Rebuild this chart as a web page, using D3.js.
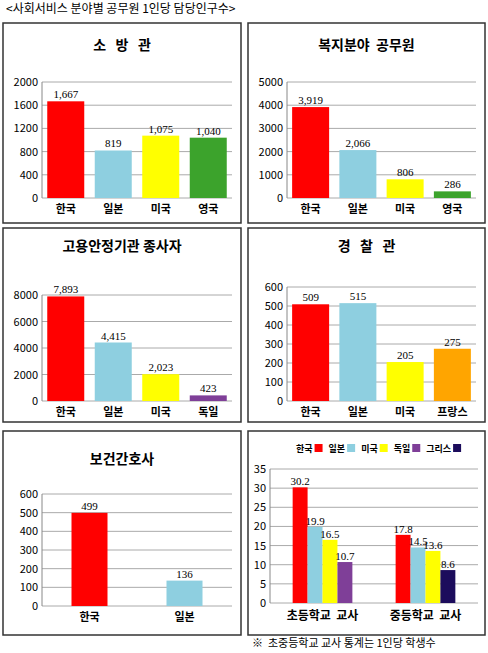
<!DOCTYPE html>
<html><head><meta charset="utf-8">
<script src="https://cdn.jsdelivr.net/npm/d3@7"></script>
<style>body{margin:0;background:#fff}text{font-family:"Noto Sans CJK KR","Noto Sans",sans-serif;white-space:pre}</style>
</head><body>
<svg id="c" width="488" height="653"></svg>
<script>
// data
const fireCats = ["한국", "일본", "미국", "영국"], fireVals = [1667, 819, 1075, 1040];
const welfCats = ["한국", "일본", "미국", "영국"], welfVals = [3919, 2066, 806, 286];
const jobCats = ["한국", "일본", "미국", "독일"], jobVals = [7893, 4415, 2023, 423];
const polCats = ["한국", "일본", "미국", "프랑스"], polVals = [509, 515, 205, 275];
const nurseCats = ["한국", "일본"], nurseVals = [499, 136];
const schoolGroups = ["초등학교  교사", "중등학교  교사"];
const schoolSeries = [["한국", "일본", "미국", "독일"], ["한국", "일본", "미국", "그리스"]];
const schoolVals = [[30.2, 19.9, 16.5, 10.7], [17.8, 14.5, 13.6, 8.6]];
const legendNames = ["한국", "일본", "미국", "독일", "그리스"];

const colors = {"한국": "#ff0000", "일본": "#8ecfe0", "미국": "#ffff00", "영국": "#3ca32c",
    "독일": "#7f3f98", "프랑스": "#ffa500", "그리스": "#1c0c5c"};

const svg = d3.select("#c");
const fmt = d3.format(",");

svg.append("text").attr("x", 6).attr("y", 13).style("font-size", "12px").text("<사회서비스 분야별 공무원 1인당 담당인구수>");

function frame(x, y, w, h) {
    svg.append("rect").attr("x", x).attr("y", y).attr("width", w).attr("height", h)
        .attr("fill", "none").attr("stroke", "#333").attr("stroke-width", 1.5);
}

function axisY(g, y, ticks, x0, x1) {
    ticks.forEach(t => {
        g.append("line").attr("x1", x0).attr("x2", x1).attr("y1", y(t)).attr("y2", y(t))
            .attr("stroke", "#aaa");
        g.append("text").attr("x", x0 - 4).attr("y", y(t) + 4).attr("text-anchor", "end")
            .style("font-size", "11px").text(t);
    });
    g.append("line").attr("x1", x0).attr("x2", x0).attr("y1", y(ticks[ticks.length - 1])).attr("y2", y(0)).attr("stroke", "#888");
}

function panel(p) {
    frame(p.x, p.y, p.w, p.h);
    const g = svg.append("g");
    g.append("text").attr("x", p.x + p.w / 2).attr("y", p.titleY).attr("text-anchor", "middle")
        .style("font-size", "14px").style("font-weight", "bold").text(p.title);
    const y = d3.scaleLinear().domain([0, p.max]).range([p.y0, p.y1]);
    const x = d3.scaleBand().domain(p.cats).range([p.ax, p.ax1]).paddingInner(p.pad).paddingOuter(p.pad / 2);
    axisY(g, y, p.ticks, p.ax, p.ax1);
    p.cats.forEach((c, i) => {
        const bx = x(c) + (x.bandwidth() - p.bw) / 2;
        g.append("rect").attr("x", bx).attr("width", p.bw).attr("y", y(p.vals[i]))
            .attr("height", y(0) - y(p.vals[i])).attr("fill", colors[c]);
        g.append("text").attr("x", x(c) + x.bandwidth() / 2).attr("y", y(p.vals[i]) - 3)
            .attr("text-anchor", "middle").style("font-family", "Liberation Serif").style("font-size", "11px")
            .text(fmt(p.vals[i]));
        g.append("text").attr("x", x(c) + x.bandwidth() / 2).attr("y", y(0) + 15)
            .attr("text-anchor", "middle").style("font-size", "11px").style("font-weight", "bold").text(c);
    });
}

panel({x: 3, y: 23, w: 238, h: 200, titleY: 50, title: "소   방   관", max: 2000, ticks: [0, 400, 800, 1200, 1600, 2000],
    y0: 198, y1: 82, ax: 42, ax1: 232, cats: fireCats, vals: fireVals, pad: 0.1, bw: 37});
panel({x: 248, y: 23, w: 237, h: 200, titleY: 50, title: "복지분야  공무원", max: 5000, ticks: [0, 1000, 2000, 3000, 4000, 5000],
    y0: 198, y1: 82, ax: 287, ax1: 476, cats: welfCats, vals: welfVals, pad: 0.1, bw: 37});
panel({x: 3, y: 228, w: 238, h: 194, titleY: 251, title: "고용안정기관 종사자", max: 8000, ticks: [0, 2000, 4000, 6000, 8000],
    y0: 401, y1: 295, ax: 42, ax1: 232, cats: jobCats, vals: jobVals, pad: 0.1, bw: 37});
panel({x: 248, y: 228, w: 237, h: 194, titleY: 251, title: "경   찰   관", max: 600, ticks: [0, 100, 200, 300, 400, 500, 600],
    y0: 401, y1: 287, ax: 287, ax1: 476, cats: polCats, vals: polVals, pad: 0.1, bw: 37});
panel({x: 3, y: 431, w: 238, h: 204, titleY: 464, title: "보건간호사", max: 600, ticks: [0, 100, 200, 300, 400, 500, 600],
    y0: 606, y1: 494, ax: 42, ax1: 232, cats: nurseCats, vals: nurseVals, pad: 0.1, bw: 36});

// school panel
frame(248, 431, 237, 204);
const gs = svg.append("g");
const ys = d3.scaleLinear().domain([0, 35]).range([603, 469]);
axisY(gs, ys, [0, 5, 10, 15, 20, 25, 30, 35], 270, 478);
const xg = d3.scaleBand().domain(schoolGroups).range([270, 478]).paddingInner(0.42).paddingOuter(0.22);
schoolGroups.forEach((grp, gi) => {
    const xb = d3.scaleBand().domain(schoolSeries[gi]).range([xg(grp), xg(grp) + xg.bandwidth()]);
    schoolSeries[gi].forEach((s, i) => {
        const v = schoolVals[gi][i];
        gs.append("rect").attr("x", xb(s)).attr("width", xb.bandwidth()).attr("y", ys(v))
            .attr("height", ys(0) - ys(v)).attr("fill", colors[s]);
        gs.append("text").attr("x", xb(s) + xb.bandwidth() / 2).attr("y", ys(v) - 2).attr("text-anchor", "middle")
            .style("font-family", "Liberation Serif").style("font-size", "11px").text(v);
    });
    gs.append("text").attr("x", xg(grp) + xg.bandwidth() / 2).attr("y", 620).attr("text-anchor", "middle")
        .style("font-size", "12px").style("font-weight", "bold").text(grp);
});
let lx = 296;
legendNames.forEach(n => {
    const t = gs.append("text").attr("x", lx).attr("y", 452).style("font-size", "9px").style("font-weight", "bold").text(n);
    const w = t.node().getComputedTextLength();
    gs.append("rect").attr("x", lx + w + 2).attr("y", 444).attr("width", 8).attr("height", 8).attr("fill", colors[n]);
    lx += w + 16;
});
svg.append("text").attr("x", 252).attr("y", 647).style("font-size", "11px").text("※  초중등학교 교사 통계는 1인당 학생수");
</script>
</body></html>
